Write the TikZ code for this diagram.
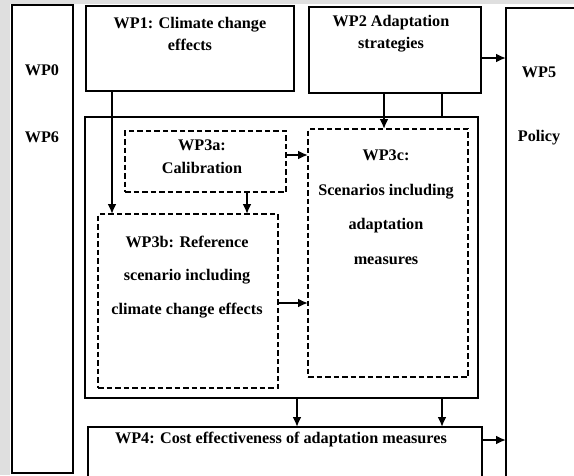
\documentclass[tikz,border=0pt]{standalone}
\usepackage{fontspec}
\setmainfont{Liberation Serif}
\usetikzlibrary{arrows.meta, calc}
\tikzset{
    block_plain/.style={rectangle, draw, line width=1.2pt, fill=white, anchor=north west, outer sep=0pt, inner sep=0pt},
    block_dashed/.style={rectangle, draw, line width=1.8pt, dash pattern=on 5.5pt off 3pt, anchor=north west, outer sep=0pt, inner sep=0pt},
    wp_text/.style={font=\bfseries\fontsize{16.2}{#1}\selectfont, align=center, inner sep=0pt},
    wp_text/.default=22,
    arrow/.style={-{Latex[length=10pt, width=9pt]}, line width=2pt},
    link/.style={line width=2pt}
}

\begin{document}
\begin{tikzpicture}[x=1pt, y=-1pt]
            \clip (0,0) rectangle (574,475);
            \fill[gray!25] (0,0) rectangle (574,475);
            \fill[white] (10,4) rectangle (574,475);

            \node (wp06) [block_plain, minimum width=61pt, minimum height=468pt] at (12,5) {};
            \node (wp1) [block_plain, minimum width=208pt, minimum height=85pt] at (86,6) {};
            \node (wp2) [block_plain, minimum width=172pt, minimum height=86pt] at (309,7) {};
            \node (wp5) [block_plain, minimum width=80pt, minimum height=480pt] at (506,8) {};
            \node (wp3) [block_plain, minimum width=393pt, minimum height=281pt] at (85,117) {};
            \node (wp3a) [block_dashed, minimum width=161pt, minimum height=61pt] at (125,131) {};
            \node (wp3b) [block_dashed, minimum width=180pt, minimum height=174pt] at (98,214) {};
            \node (wp3c) [block_dashed, minimum width=160pt, minimum height=248pt] at (308,129) {};
            \node (wp4) [block_plain, minimum width=394pt, minimum height=70pt] at (88,427) {};

            \node (wp0_txt) [wp_text] at (42,70) {WP0};
            \node (wp6_txt) [wp_text] at (42,137) {WP6};
            \node (wp5_txt) [wp_text] at (539,72) {WP5};
            \node (policy_txt) [wp_text] at (539,138) {Policy};
            \node (wp1_txt) [wp_text] at (190,34) {WP1: Climate change\\effects};
            \node (wp2_txt) [wp_text] at (391,34) {WP2 Adaptation\\strategies};
            \node (wp3a_txt) [wp_text=23] at (202,157) {WP3a:\\Calibration};
            \node (wp3b_txt) [wp_text=33.5] at (187,277) {WP3b: Reference\\scenario including\\climate change effects};
            \node (wp3c_txt) [wp_text=34.5] at (386,207) {WP3c:\\Scenarios including\\adaptation\\measures};
            \node (wp4_txt) [wp_text] at (281,440) {WP4: Cost effectiveness of adaptation measures};

            \draw [arrow] ([xshift=26pt]wp1.south west) -- ([xshift=26pt]wp1.south west |- wp3b.north);
            \draw [arrow] ([xshift=122pt]wp3a.south west) -- ([xshift=122pt]wp3a.south west |- wp3b.north);
            \draw [arrow] ([yshift=6.5pt]wp3a.east) -- ([yshift=6.5pt]wp3a.east -| wp3c.west);
            \draw [arrow] ([xshift=75pt]wp2.south west) -- ([xshift=75pt]wp2.south west |- wp3c.north);
            \draw [link] ([xshift=133pt]wp2.south west) -- ([xshift=133pt]wp2.south west |- wp3.north);
            \draw [arrow] ([yshift=-8pt]wp2.east) -- ([yshift=-8pt]wp2.east -| wp5.west);
            \draw [arrow] ([yshift=-2pt]wp3b.east) -- ([yshift=-2pt]wp3b.east -| wp3c.west);
            \draw [arrow] ([xshift=212pt]wp3.south west) -- ([xshift=212pt]wp3.south west |- wp4.north);
            \draw [arrow] ([xshift=357pt]wp3.south west) -- ([xshift=357pt]wp3.south west |- wp4.north);
            \draw [arrow] ([yshift=-13pt]wp4.north east) -- ([yshift=-13pt]wp4.north east -| wp5.west);
\end{tikzpicture}
\end{document}
